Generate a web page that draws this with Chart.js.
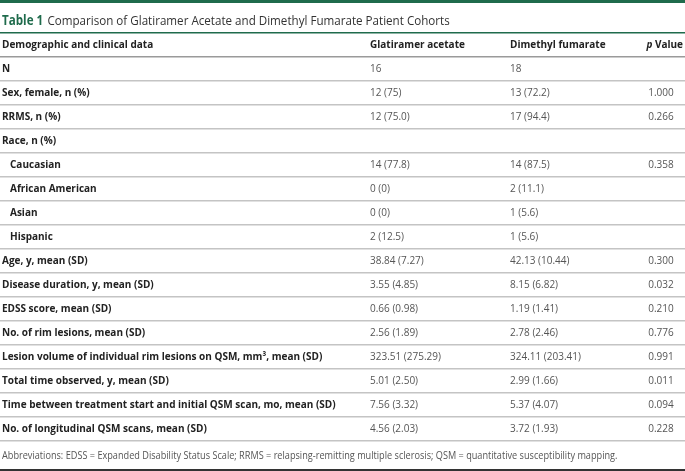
<!DOCTYPE html>
<html>
<head>
<meta charset="utf-8">
<script src="https://cdn.jsdelivr.net/npm/chart.js@4.4.1/dist/chart.umd.min.js"></script>
<style>
  html, body { margin: 0; padding: 0; background: #fff; }
  #wrap { width: 685px; height: 471px; position: relative; }
</style>
</head>
<body>
<div id="wrap"><canvas id="tableChart"></canvas></div>
<script>
// table content
const headerCols = ['Demographic and clinical data', 'Glatiramer acetate', 'Dimethyl fumarate', 'p Value'];
const rowLabels = [
    'N',
    'Sex, female, n (%)',
    'RRMS, n (%)',
    'Race, n (%)',
    'Caucasian',
    'African American',
    'Asian',
    'Hispanic',
    'Age, y, mean (SD)',
    'Disease duration, y, mean (SD)',
    'EDSS score, mean (SD)',
    'No. of rim lesions, mean (SD)',
    'Lesion volume of individual rim lesions on QSM, mm³, mean (SD)',
    'Total time observed, y, mean (SD)',
    'Time between treatment start and initial QSM scan, mo, mean (SD)',
    'No. of longitudinal QSM scans, mean (SD)'
];
const indentedRows = ['Caucasian', 'African American', 'Asian', 'Hispanic'];
const glatiramer = ['16', '12 (75)', '12 (75.0)', '', '14 (77.8)', '0 (0)', '0 (0)', '2 (12.5)',
    '38.84 (7.27)', '3.55 (4.85)', '0.66 (0.98)', '2.56 (1.89)', '323.51 (275.29)', '5.01 (2.50)', '7.56 (3.32)', '4.56 (2.03)'];
const dimethyl = ['18', '13 (72.2)', '17 (94.4)', '', '14 (87.5)', '2 (11.1)', '1 (5.6)', '1 (5.6)',
    '42.13 (10.44)', '8.15 (6.82)', '1.19 (1.41)', '2.78 (2.46)', '324.11 (203.41)', '2.99 (1.66)', '5.37 (4.07)', '3.72 (1.93)'];
const pValues = ['', '1.000', '0.266', '', '0.358', '', '', '', '0.300', '0.032', '0.210', '0.776', '0.991', '0.011', '0.094', '0.228'];
const titleLabel = 'Table 1';
const titleText = 'Comparison of Glatiramer Acetate and Dimethyl Fumarate Patient Cohorts';
const footnote = 'Abbreviations: EDSS = Expanded Disability Status Scale; RRMS = relapsing-remitting multiple sclerosis; QSM = quantitative susceptibility mapping.';

const green = '#1f6b4c';
const FONT = '"Open Sans", "Noto Sans", sans-serif';

const allRows = [headerCols[0]].concat(rowLabels);

// draws the cell text on top of the category axis
const tablePlugin = {
    id: 'tableText',
    afterDraw(chart) {
        const ctx = chart.ctx;
        const x = chart.scales.x;
        const y = chart.scales.y;
        const W = chart.width;
        ctx.save();

        // green band at the top
        ctx.fillStyle = green;
        ctx.fillRect(0, 0, W, 3);

        // title (narrow face in the original, so squeeze it a bit)
        ctx.textBaseline = 'middle';
        ctx.textAlign = 'left';
        ctx.save();
        ctx.translate(2, 21);
        ctx.scale(0.86, 1);
        ctx.font = 'bold 13.5px ' + FONT;
        ctx.fillStyle = green;
        ctx.fillText(titleLabel, 0, 0);
        const tw = ctx.measureText(titleLabel).width;
        ctx.font = '13.5px ' + FONT;
        ctx.fillStyle = '#333';
        ctx.fillText(titleText, tw + 5, 0);
        ctx.restore();

        // header row
        const hy = y.getPixelForValue(0);
        ctx.font = 'bold 10px ' + FONT;
        ctx.fillStyle = '#222';
        ctx.fillText(headerCols[0], x.getPixelForValue(2), hy);
        ctx.fillText(headerCols[1], x.getPixelForValue(370), hy);
        ctx.fillText(headerCols[2], x.getPixelForValue(510), hy);
        ctx.textAlign = 'right';
        ctx.fillText(' Value', x.getPixelForValue(683), hy);
        const vw = ctx.measureText(' Value').width;
        ctx.font = 'italic bold 10px ' + FONT;
        ctx.fillText('p', x.getPixelForValue(683) - vw, hy);

        // body rows
        rowLabels.forEach((lab, i) => {
            const py = y.getPixelForValue(i + 1);
            ctx.textAlign = 'left';
            ctx.font = 'bold 10px ' + FONT;
            ctx.fillStyle = '#222';
            const lx = indentedRows.includes(lab) ? 10 : 2;
            ctx.fillText(lab, x.getPixelForValue(lx), py);
            ctx.font = '10px ' + FONT;
            ctx.fillStyle = '#555';
            ctx.fillText(glatiramer[i], x.getPixelForValue(370), py);
            ctx.fillText(dimethyl[i], x.getPixelForValue(510), py);
            ctx.textAlign = 'center';
            ctx.fillText(pValues[i], x.getPixelForValue(661), py);
        });

        // footnote and closing rule
        ctx.save();
        ctx.translate(2, 456);
        ctx.scale(0.915, 1);
        ctx.textAlign = 'left';
        ctx.font = '10px ' + FONT;
        ctx.fillStyle = '#555';
        ctx.fillText(footnote, 0, 0);
        ctx.restore();
        ctx.fillStyle = '#333';
        ctx.fillRect(0, 469, W, 2);
        ctx.restore();
    }
};

new Chart(document.getElementById('tableChart').getContext('2d'), {
    type: 'bar',
    data: {
        labels: allRows,
        datasets: [{
            label: 'cells',
            data: allRows.map(() => null)
        }]
    },
    options: {
        indexAxis: 'y',
        responsive: true,
        maintainAspectRatio: false,
        animation: false,
        layout: { padding: { top: 33, bottom: 30, left: 0, right: 0 } },
        plugins: {
            legend: { display: false },
            tooltip: { enabled: false }
        },
        scales: {
            x: {
                type: 'linear',
                min: 0,
                max: 685,
                display: true,
                grid: { display: false, drawTicks: false },
                border: { display: false },
                ticks: { display: false }
            },
            y: {
                type: 'category',
                offset: true,
                border: { display: false },
                ticks: { display: false },
                grid: {
                    offset: true,
                    drawTicks: false,
                    color: (c) => {
                        if (c.index === 0) return green;
                        if (c.index === 1) return '#9a9a9a';
                        if (c.index === allRows.length) return '#707070';
                        return '#c4c4c4';
                    },
                    lineWidth: (c) => {
                        if (c.index === allRows.length) return 2;
                        return 1.5;
                    }
                }
            }
        }
    },
    plugins: [tablePlugin]
});
</script>
</body>
</html>
